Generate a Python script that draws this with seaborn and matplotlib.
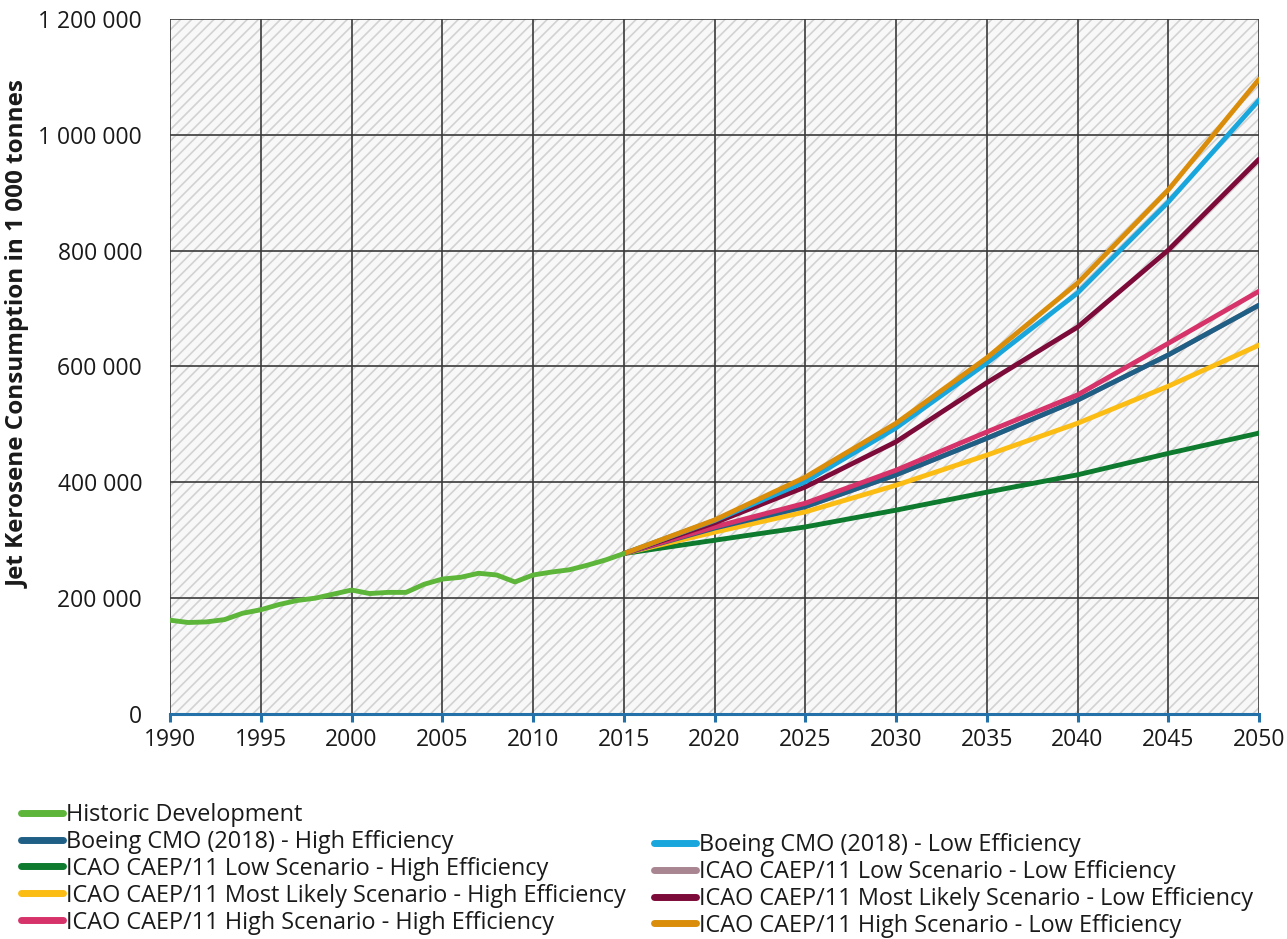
import matplotlib
matplotlib.use("Agg")
import matplotlib.pyplot as plt
import seaborn as sns
import pandas as pd
from matplotlib.patches import Rectangle
from matplotlib.ticker import FuncFormatter, MultipleLocator

# ---------------- data ----------------
hist_years = list(range(1990, 2016))
hist_values = [162, 158, 159, 163, 174, 180, 189, 196, 200, 207, 214, 208, 210, 210,
               224, 233, 236, 243, 240, 228, 240, 245, 249, 257, 266, 277]

proj_years = [2015, 2020, 2025, 2030, 2035, 2040, 2045, 2050]
boeing_high = [277, 321, 358, 413, 476, 542, 620, 706]
boeing_low = [277, 334, 401, 494, 606, 727, 884, 1060]
icao_low_high = [277, 300, 323, 352, 383, 413, 450, 485]
icao_low_low = [277, 321, 358, 413, 476, 542, 620, 706]
icao_ml_high = [277, 314, 349, 395, 447, 502, 566, 637]
icao_ml_low = [277, 330, 392, 470, 572, 668, 801, 958]
icao_high_high = [277, 323, 364, 421, 487, 551, 640, 730]
icao_high_low = [277, 335, 409, 502, 615, 744, 905, 1096]

labels = [
    "Historic Development",
    "Boeing CMO (2018) - High Efficiency",
    "ICAO CAEP/11 Low Scenario - High Efficiency",
    "ICAO CAEP/11 Most Likely Scenario - High Efficiency",
    "ICAO CAEP/11 High Scenario - High Efficiency",
    "Boeing CMO (2018) - Low Efficiency",
    "ICAO CAEP/11 Low Scenario - Low Efficiency",
    "ICAO CAEP/11 Most Likely Scenario - Low Efficiency",
    "ICAO CAEP/11 High Scenario - Low Efficiency",
]
colors = {
    labels[0]: "#5DB53A",
    labels[1]: "#1F5F86",
    labels[2]: "#0D7A2E",
    labels[3]: "#FBBC14",
    labels[4]: "#D6336A",
    labels[5]: "#19A6DC",
    labels[6]: "#A88590",
    labels[7]: "#7D0B3A",
    labels[8]: "#D98D0A",
}

series = {
    labels[6]: icao_low_low,
    labels[2]: icao_low_high,
    labels[3]: icao_ml_high,
    labels[1]: boeing_high,
    labels[4]: icao_high_high,
    labels[7]: icao_ml_low,
    labels[5]: boeing_low,
    labels[8]: icao_high_low,
}

# ---------------- style ----------------
sns.set_style("white")
plt.rcParams["font.family"] = ["Open Sans", "DejaVu Sans"]
plt.rcParams["hatch.linewidth"] = 1.2

fig = plt.figure(figsize=(12.87, 9.39), dpi=100)
ax = fig.add_axes([0.1321, 0.2396, 0.8462, 0.7402])

# hatched background
ax.add_patch(Rectangle((0, 0), 1, 1, transform=ax.transAxes, facecolor="#f8f8f8",
                       edgecolor="#d2d2d2", hatch="///", lw=0, zorder=0))

for name, vals in series.items():
    df = pd.DataFrame({"year": proj_years, "value": [v * 1000 for v in vals]})
    sns.lineplot(data=df, x="year", y="value", ax=ax, color=colors[name], lw=3.5,
                 zorder=3, solid_capstyle="round")

dfh = pd.DataFrame({"year": hist_years, "value": [v * 1000 for v in hist_values]})
sns.lineplot(data=dfh, x="year", y="value", ax=ax, color=colors[labels[0]], lw=3.5,
             zorder=4, solid_capstyle="round")

ax.set_xlim(1990, 2050)
ax.set_ylim(0, 1200000)
ax.xaxis.set_major_locator(MultipleLocator(5))
ax.yaxis.set_major_locator(MultipleLocator(200000))
ax.yaxis.set_major_formatter(FuncFormatter(lambda v, p: f"{int(v):,}".replace(",", " ")))
ax.grid(True, color="#3a3a3a", lw=1.2, zorder=1)
for line in ax.get_xgridlines() + ax.get_ygridlines():
    line.set_zorder(1)

for s in ["top", "right", "left"]:
    ax.spines[s].set_visible(False)
ax.spines["bottom"].set_color("#2470A8")
ax.spines["bottom"].set_linewidth(2.2)
ax.spines["bottom"].set_zorder(5)
ax.tick_params(axis="x", which="major", direction="out", length=6, width=2.2,
               color="#2470A8", labelsize=16.5, pad=4, bottom=True, labelcolor="#1a1a1a")
ax.tick_params(axis="y", length=0, labelsize=16.5, pad=20, labelcolor="#1a1a1a")
ax.set_xlabel("")
ax.set_ylabel("")
fig.text(19 / 1287, 1 - 334 / 939, "Jet Kerosene Consumption in 1 000 tonnes",
         rotation=90, ha="center", va="center", fontsize=17.5, fontweight="bold",
         color="#1a1a1a")

# legend
leg_kw = dict(frameon=False, fontsize=16.9, handlelength=1.8, handletextpad=0.12,
              labelspacing=0.125, borderaxespad=0, borderpad=0, labelcolor="#1a1a1a")
left_names = labels[0:5]
right_names = labels[5:9]
proxy = lambda n: plt.Line2D([], [], color=colors[n], lw=5, solid_capstyle="round")
fig.legend([proxy(n) for n in left_names], left_names, loc="upper left",
           bbox_to_anchor=(0.016, 0.145), **leg_kw)
fig.legend([proxy(n) for n in right_names], right_names, loc="upper left",
           bbox_to_anchor=(0.508, 0.113), **leg_kw)

fig.savefig("out.png", dpi=100)
